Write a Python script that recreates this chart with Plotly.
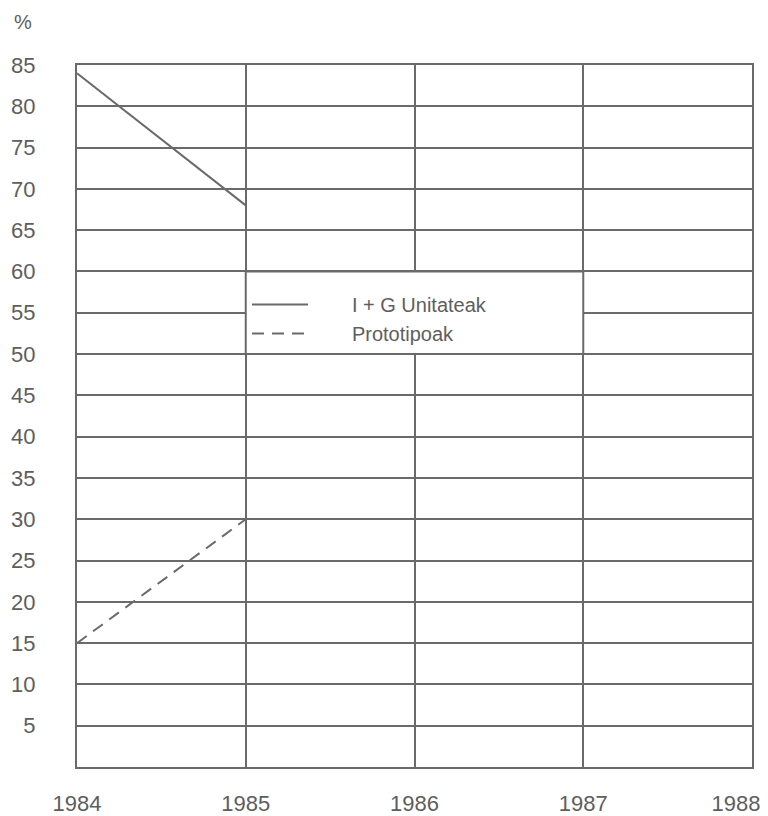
import plotly.graph_objects as go

years = [1984, 1985, 1986, 1987, 1988]
series_names = ["I + G Unitateak", "Prototipoak"]
ig_years = [1984, 1985]
ig_values = [84, 68]
proto_years = [1984, 1985]
proto_values = [15, 30]
y_ticks = list(range(5, 90, 5))

grey = "#6a6a6a"
text_grey = "#5e5e5e"
font_family = "Liberation Sans, Arial, sans-serif"
pad = "\u00a0" * 7

# page body adds an 8px offset; size the figure so the plot area lands where the reference has it
W, H = 760, 808
L, R, T, B = 69, 16, 57, 49
pw, ph = W - L - R, H - T - B

# the last year label is pulled inward so it stays inside the page, as in the reference
x_span = years[-1] - years[0]
label_pos = list(years)
label_pos[-1] = years[-1] - 16 * x_span / pw

fig = go.Figure()
fig.add_trace(go.Scatter(x=ig_years, y=ig_values, mode="lines", name=pad + series_names[0],
                         line=dict(color=grey, width=2)))
fig.add_trace(go.Scatter(x=proto_years, y=proto_values, mode="lines", name=pad + series_names[1],
                         line=dict(color=grey, width=2, dash="12px,8px")))

# white legend panel covering the grid between 1985-1987 and 50-60
fig.add_shape(type="rect", x0=1985, x1=1987, y0=50, y1=60, xref="x", yref="y",
              fillcolor="white", line=dict(color=grey, width=2), layer="above")

fig.add_annotation(text="%", xref="paper", yref="paper", x=(23 - 77) / pw, y=1 + (65 - 22) / ph,
                   showarrow=False, font=dict(family=font_family, size=20, color=text_grey),
                   xanchor="center", yanchor="middle")

fig.update_layout(
    width=W, height=H,
    margin=dict(l=L, r=R, t=T, b=B, autoexpand=False),
    paper_bgcolor="white", plot_bgcolor="white",
    showlegend=True,
    legend=dict(x=(247 - 77) / pw, y=(767 - 285) / ph, xanchor="left", yanchor="top",
                bgcolor="rgba(0,0,0,0)", borderwidth=0,
                font=dict(family=font_family, size=20, color=text_grey),
                itemwidth=56, tracegroupgap=0),
    font=dict(family=font_family, size=22, color=text_grey),
)
fig.update_xaxes(range=[years[0], years[-1]], tickvals=label_pos, ticktext=[str(y) for y in years],
                 showgrid=False,
                 minor=dict(tickvals=years, showgrid=True, gridcolor=grey, gridwidth=2, ticks=""),
                 showline=True, linecolor=grey, linewidth=2, mirror=True,
                 zeroline=False, ticks="", ticklabelstandoff=16, automargin=False,
                 ticklabeloverflow="allow",
                 tickfont=dict(family=font_family, size=22, color=text_grey))
fig.update_yaxes(range=[0, 85], tickvals=y_ticks,
                 showgrid=True, gridcolor=grey, gridwidth=2,
                 showline=True, linecolor=grey, linewidth=2, mirror=True,
                 zeroline=False, ticks="", ticklabelstandoff=35, automargin=False,
                 ticklabeloverflow="allow",
                 tickfont=dict(family=font_family, size=22, color=text_grey))

fig.write_html("out.html")
